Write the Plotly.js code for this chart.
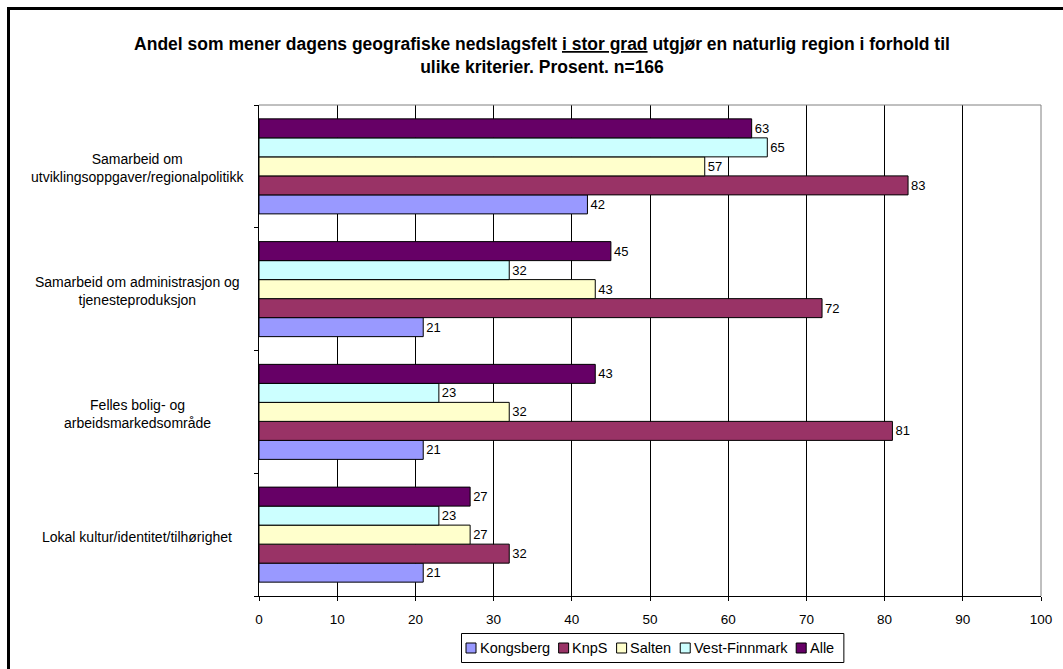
<!DOCTYPE html>
<html>
<head>
<meta charset="utf-8">
<script src="https://cdn.plot.ly/plotly-3.0.1.min.js"></script>
<style>
html,body{margin:0;padding:0;background:#fff;}
#chart{width:1063px;height:669px;}
</style>
</head>
<body>
<div id="chart"></div>
<script>
// Categories, top to bottom as in the chart
const categories = [
  "Samarbeid om<br>utviklingsoppgaver/regionalpolitikk",
  "Samarbeid om administrasjon og<br>tjenesteproduksjon",
  "Felles bolig- og<br>arbeidsmarkedsområde",
  "Lokal kultur/identitet/tilhørighet"
];
const seriesNames = ["Kongsberg", "KnpS", "Salten", "Vest-Finnmark", "Alle"];
const kongsberg    = [42, 21, 21, 21];
const knps         = [83, 72, 81, 32];
const salten       = [57, 43, 32, 27];
const vestFinnmark = [65, 32, 23, 23];
const alle         = [63, 45, 43, 27];
const seriesValues = [kongsberg, knps, salten, vestFinnmark, alle];
const seriesColors = ["#9999FF", "#993366", "#FFFFCC", "#CCFFFF", "#660066"];
const xTicks = [0,10,20,30,40,50,60,70,80,90,100];

const FONT = "Liberation Sans, Arial, sans-serif";

const traces = seriesNames.map((name, i) => ({
  type: "bar",
  orientation: "h",
  name: name,
  y: categories,
  x: seriesValues[i],
  text: seriesValues[i].map(String),
  textposition: "outside",
  textfont: {family: FONT, size: 13, color: "#000"},
  cliponaxis: false,
  showlegend: false,
  marker: {color: seriesColors[i], line: {color: "#000", width: 1}},
  hoverinfo: "x+name"
}));

// plot area geometry (pixels)
const W = 1063, H = 669;
const L = 259, R = 22, T = 105, B = 73;
const pw = W - L - R, ph = H - T - B;
const px = v => (v - L) / pw;
const py = v => (H - B - v) / ph;

const annotations = categories.map(c => ({
  xref: "paper", yref: "y",
  x: px(137), y: c,
  text: c, showarrow: false,
  xanchor: "center", yanchor: "middle", align: "center",
  yshift: -2,
  font: {family: FONT, size: 14, color: "#000"}
}));

const shapes = [
  // plot area border (top and right), grey
  {type: "line", xref: "paper", yref: "paper", x0: 0, x1: 1, y0: 1, y1: 1,
   line: {color: "#808080", width: 1}, layer: "above"},
  {type: "line", xref: "paper", yref: "paper", x0: 1, x1: 1, y0: 0, y1: 1,
   line: {color: "#808080", width: 1}, layer: "above"},
  // outer chart frame (cropped at right and bottom)
  {type: "rect", xref: "paper", yref: "paper",
   x0: px(8.5), x1: px(1200), y0: py(8.5), y1: py(800),
   line: {color: "#000", width: 3}, fillcolor: "rgba(0,0,0,0)", layer: "above"}
];

// Legend (Excel style, compact), built from series names and colours
const LEG_FONT_SIZE = 14.5;
const ctx = document.createElement("canvas").getContext("2d");
ctx.font = LEG_FONT_SIZE + "px 'Liberation Sans'";
const legStartX = 466, legCY = 648, sq = 10, sqGap = 2.5, itemGap = 8;
let cx = legStartX;
seriesNames.forEach((name, i) => {
  shapes.push({type: "rect", xref: "paper", yref: "paper",
    x0: px(cx), x1: px(cx + sq), y0: py(legCY - sq/2), y1: py(legCY + sq/2),
    fillcolor: seriesColors[i], line: {color: "#000", width: 1}, layer: "above"});
  const tx = cx + sq + sqGap;
  annotations.push({xref: "paper", yref: "paper", x: px(tx), y: py(legCY),
    text: name, showarrow: false, xanchor: "left", yanchor: "middle",
    xshift: -1, font: {family: FONT, size: LEG_FONT_SIZE, color: "#000"}});
  const w = ctx.measureText(name).width + 2;
  cx = tx + w + itemGap;
});
const legEndX = cx - itemGap + 9;
shapes.push({type: "rect", xref: "paper", yref: "paper",
  x0: px(legStartX - 4.5), x1: px(legEndX), y0: py(633.5), y1: py(662.5),
  fillcolor: "rgba(0,0,0,0)", line: {color: "#000", width: 1}, layer: "below"});

const layout = {
  width: W, height: H,
  margin: {l: L, r: R, t: T, b: B, pad: 0},
  paper_bgcolor: "#fff",
  plot_bgcolor: "#fff",
  font: {family: FONT, size: 13, color: "#000"},
  title: {
    text: "<b>Andel som mener dagens geografiske nedslagsfelt <u>i stor grad</u> utgjør en naturlig region i forhold til<br>ulike kriterier. Prosent. n=166</b>",
    font: {family: FONT, size: 17.5, color: "#000"},
    xref: "container", yref: "container",
    x: 542 / W, xanchor: "center",
    y: 1 - 50 / H, yanchor: "top"
  },
  barmode: "group",
  bargap: 0.226,
  bargroupgap: 0,
  showlegend: false,
  xaxis: {
    range: [0, 100],
    tickvals: xTicks,
    ticktext: xTicks.map(String),
    ticks: "outside", ticklen: 4, tickcolor: "#000",
    ticklabelstandoff: 7,
    showline: true, linecolor: "#000", linewidth: 1,
    showgrid: true, gridcolor: "#000", gridwidth: 1,
    zeroline: false,
    tickfont: {family: FONT, size: 13.5, color: "#000"},
    fixedrange: true
  },
  yaxis: {
    type: "category",
    categoryorder: "array",
    categoryarray: categories.slice().reverse(),
    showticklabels: false,
    ticks: "outside", ticklen: 4, tickcolor: "#000",
    tickson: "boundaries",
    showline: true, linecolor: "#000", linewidth: 1,
    showgrid: false, zeroline: false,
    fixedrange: true
  },
  annotations: annotations,
  shapes: shapes
};

Plotly.newPlot("chart", traces, layout, {displayModeBar: false, staticPlot: true});
</script>
</body>
</html>
